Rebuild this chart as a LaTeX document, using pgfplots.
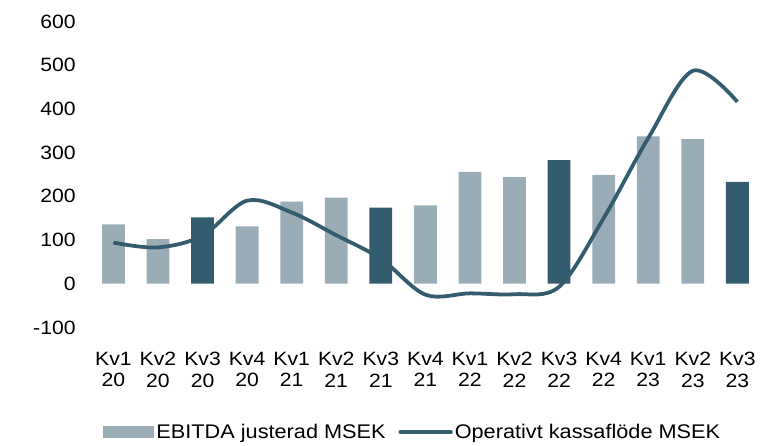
\documentclass[border=0pt]{standalone}
\usepackage{pgfplots}
\pgfplotsset{compat=1.18}
\usepackage{fontspec}
\setmainfont{Liberation Sans}[FakeStretch=1.1]
\definecolor{barlight}{HTML}{9AADB6}
\definecolor{bardark}{HTML}{335C6E}
\begin{document}
\fontsize{19.5}{22}\selectfont
\begin{tikzpicture}
\begin{axis}[
  scale only axis, width=675bp, height=309bp,
  xmin=-0.5, xmax=14.5, ymin=-100, ymax=600,
  axis line style={draw=none},
  major tick length=0pt,
  ytick={-100,0,100,200,300,400,500,600},
  xtick={0,...,14},
  xticklabels={{Kv1\\20},{Kv2\\20},{Kv3\\20},{Kv4\\20},{Kv1\\21},{Kv2\\21},{Kv3\\21},{Kv4\\21},{Kv1\\22},{Kv2\\22},{Kv3\\22},{Kv4\\22},{Kv1\\23},{Kv2\\23},{Kv3\\23}},
  xticklabel style={align=center, font=\fontsize{19.5}{22}\selectfont, yshift=-18bp},
  yticklabel style={font=\fontsize{19.5}{22}\selectfont, xshift=-9bp},
  /pgf/number format/assume math mode=true,
  clip=false,
  legend style={at={(rel axis cs:0.013,-0.345)}, anchor=west, draw=none, fill=none,
    legend columns=2, font=\fontsize{20}{23}\selectfont,
    /tikz/every even column/.append style={column sep=11bp}},
]
\addplot[ybar, bar width=23bp, fill=barlight, draw=none,
  legend image code/.code={\fill[barlight] (0bp,-5bp) rectangle (52bp,7bp);}]
  coordinates {(0,136) (1,102) (3,131) (4,188) (5,197) (7,179) (8,256) (9,244) (11,249) (12,337) (13,331)};
\addlegendentry{EBITDA justerad MSEK}
\addplot[ybar, bar width=23bp, fill=bardark, draw=none, forget plot]
  coordinates {(2,152) (6,174) (10,283) (14,233)};
\addplot[bardark, line width=3.8bp, smooth, tension=0.55,
  legend image code/.code={\draw[bardark, line width=3.8bp, line cap=round] (2bp,1bp) -- (53bp,1bp);}]
  coordinates {(0,94) (1,83) (2,110) (3,190) (4,163) (5,111) (6,57) (7,-25) (8,-22) (9,-24) (10,-7) (11,150) (12,333) (13,487) (14,416)};
\addlegendentry{Operativt kassaflöde MSEK}
\path (rel axis cs:-0.1363,1.07);
\end{axis}
\end{tikzpicture}
\end{document}
